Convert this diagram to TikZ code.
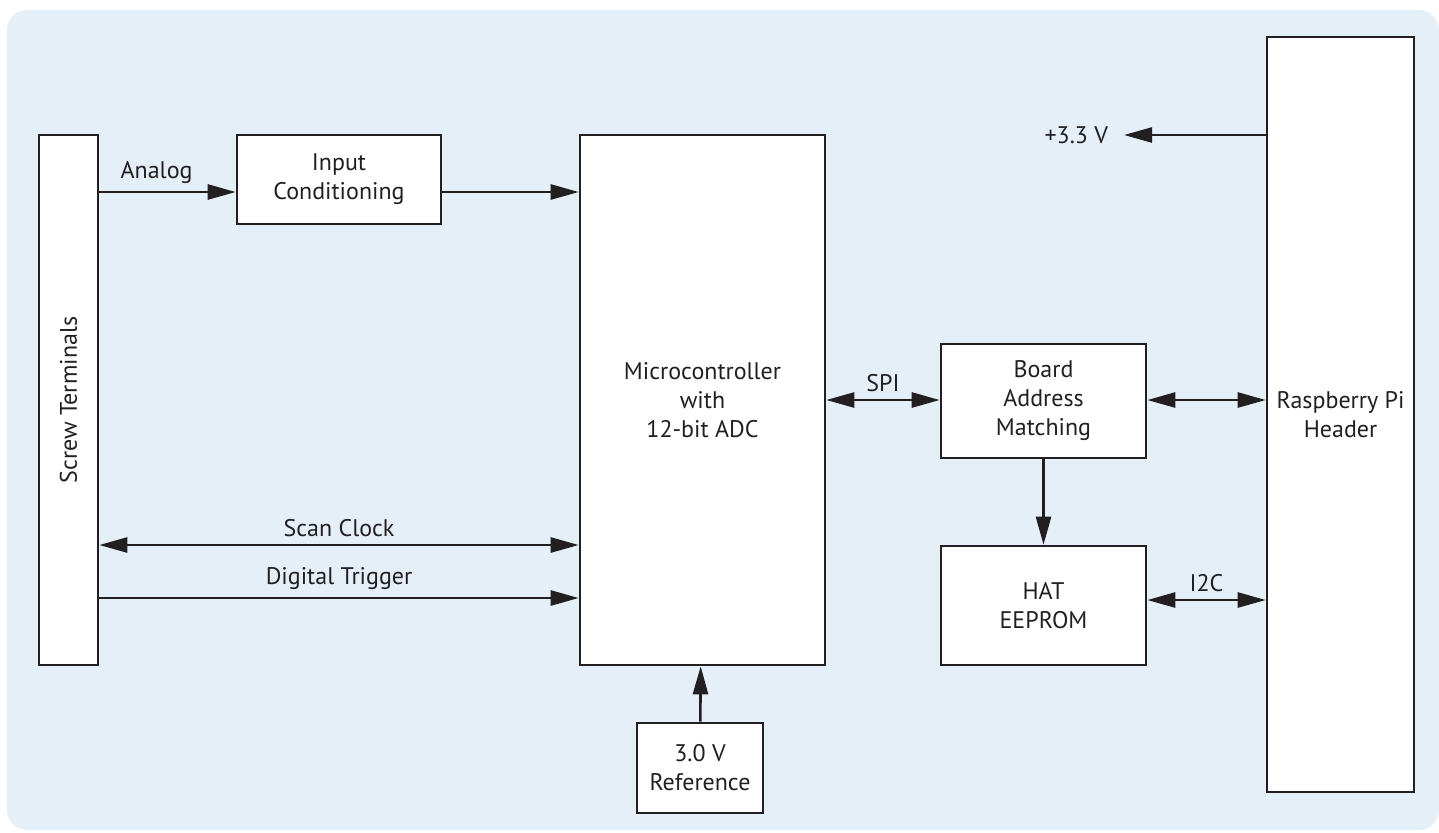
\documentclass[tikz,border=0pt]{standalone}
\usepackage{fontspec}
\setmainfont{PT Sans}
\usetikzlibrary{arrows.meta,positioning}
\definecolor{panel}{RGB}{228,239,248}
\definecolor{ink}{RGB}{35,31,32}

\begin{document}
\begin{tikzpicture}[x=0.5pt,y=-0.5pt,line width=1.3pt,draw=ink,text=ink,
    font=\fontsize{12}{14.5}\selectfont,
    block/.style={rectangle,draw=ink,fill=white,align=center,inner sep=0pt},
    arr/.style={-{Triangle[length=14pt,width=7.5pt]}},
    both/.style={{Triangle[length=14pt,width=7.5pt]}-{Triangle[length=14pt,width=7.5pt]}}]
    \useasboundingbox (0,0) rectangle (1439,832);
    \fill[panel,rounded corners=10pt] (7,10) rectangle (1439,830);

    \node[block,rotate=90,minimum width=265pt,minimum height=29.5pt] (screw) at (68.5,400) {Screw Terminals};
    \node[block,minimum width=102pt,minimum height=44.5pt] (cond) at (339,179.5) {Input\\Conditioning};
    \node[block,minimum width=122.5pt,minimum height=265pt] (mcu) at (702.5,400) {Microcontroller\\with\\12-bit ADC};
    \node[block,minimum width=63pt,minimum height=45pt] (vref) at (700,768) {3.0 V\\Reference};
    \node[block,minimum width=102.5pt,minimum height=57pt] (board) at (1043.5,401) {Board\\Address\\Matching};
    \node[block,minimum width=102.5pt,minimum height=59.5pt] (hat) at (1043.5,605.5) {HAT\\EEPROM};
    \node[block,minimum width=73.5pt,minimum height=377.5pt] (rpi) at (1340.5,414.5) {Raspberry Pi\\Header};
    \coordinate (v33tip) at (1124,135);
    \node[left=4pt of v33tip] (v33) {+3.3 V};

    % signals from the terminals
    \draw[arr] (screw.south |- 0,192) -- node[above,pos=0.42] {Analog} (cond.west |- 0,192);
    \draw[arr] (cond.east |- 0,192) -- (mcu.west |- 0,192);
    \draw[both] (screw.south |- 0,545) -- node[above] {Scan Clock} (mcu.west |- 0,545);
    \draw[arr] (screw.south |- 0,598) -- node[above] {Digital Trigger} (mcu.west |- 0,598);
    \draw[arr] (vref) -- (mcu);

    % host side
    \draw[both] (mcu.east |- 0,400) -- node[above] {SPI} (board.west |- 0,400);
    \draw[both] (board.east |- 0,400) -- (rpi.west |- 0,400);
    \draw[arr] (board) -- (hat);
    \draw[both] (hat.east |- 0,600) -- node[above] {I2C} (rpi.west |- 0,600);
    \draw[arr] (rpi.west |- 0,135) -- (v33tip);
\end{tikzpicture}
\end{document}
